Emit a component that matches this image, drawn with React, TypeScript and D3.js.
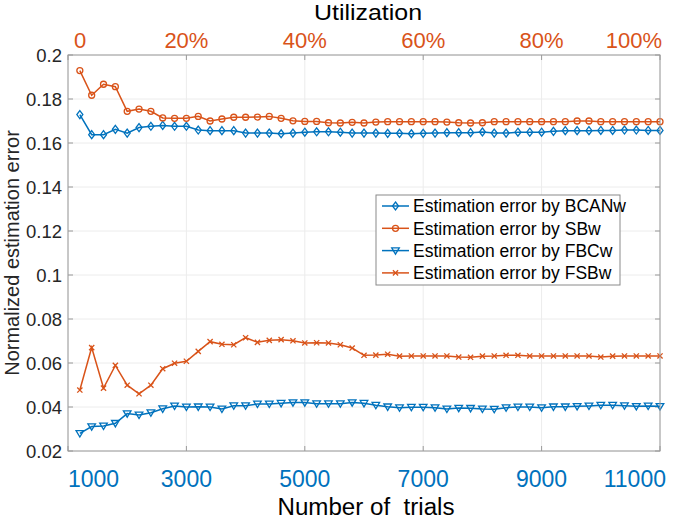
import React from "react";
import * as d3 from "d3";

const trials = [1200,1400,1600,1800,2000,2200,2400,2600,2800,3000,3200,3400,3600,3800,4000,4200,4400,4600,4800,5000,5200,5400,5600,5800,6000,6200,6400,6600,6800,7000,7200,7400,7600,7800,8000,8200,8400,8600,8800,9000,9200,9400,9600,9800,10000,10200,10400,10600,10800,11000];

const bcanw = [0.1729,0.1638,0.1638,0.1662,0.1645,0.1670,0.1676,0.1680,0.1676,0.1676,0.1659,0.1656,0.1656,0.1656,0.1645,0.1645,0.1645,0.1642,0.1645,0.1649,0.1651,0.1651,0.1649,0.1645,0.1645,0.1645,0.1644,0.1644,0.1642,0.1644,0.1645,0.1647,0.1647,0.1647,0.1650,0.1645,0.1645,0.1649,0.1649,0.1649,0.1653,0.1656,0.1656,0.1656,0.1657,0.1657,0.1659,0.1659,0.1657,0.1657];
const sbw = [0.1929,0.1817,0.1867,0.1856,0.1744,0.1754,0.1744,0.1714,0.1712,0.1712,0.1721,0.1700,0.1709,0.1717,0.1717,0.1718,0.1721,0.1712,0.1701,0.1698,0.1698,0.1692,0.1691,0.1694,0.1691,0.1695,0.1697,0.1697,0.1697,0.1697,0.1697,0.1695,0.1692,0.1691,0.1692,0.1697,0.1697,0.1697,0.1697,0.1697,0.1697,0.1697,0.1700,0.1700,0.1697,0.1697,0.1697,0.1697,0.1697,0.1697];
const fbcw = [0.0280,0.0311,0.0314,0.0326,0.0370,0.0364,0.0374,0.0392,0.0405,0.0400,0.0401,0.0400,0.0391,0.0406,0.0406,0.0414,0.0414,0.0417,0.0420,0.0420,0.0415,0.0415,0.0415,0.0420,0.0417,0.0408,0.0401,0.0397,0.0399,0.0399,0.0397,0.0391,0.0395,0.0394,0.0391,0.0390,0.0397,0.0400,0.0400,0.0397,0.0401,0.0401,0.0403,0.0405,0.0408,0.0408,0.0406,0.0403,0.0405,0.0403];
const fsbw = [0.0477,0.0670,0.0486,0.0589,0.0499,0.0460,0.0499,0.0574,0.0599,0.0608,0.0653,0.0697,0.0685,0.0683,0.0715,0.0694,0.0703,0.0706,0.0701,0.0691,0.0692,0.0691,0.0683,0.0668,0.0635,0.0636,0.0640,0.0631,0.0632,0.0632,0.0632,0.0632,0.0627,0.0626,0.0631,0.0632,0.0635,0.0635,0.0632,0.0632,0.0632,0.0632,0.0632,0.0632,0.0627,0.0631,0.0632,0.0632,0.0632,0.0632];

const xTicks = [1000,3000,5000,7000,9000,11000];
const topTicks = [0,0.2,0.4,0.6,0.8,1.0];
const topTickLabels = ["0","20%","40%","60%","80%","100%"];
const yTicks = [0.02,0.04,0.06,0.08,0.1,0.12,0.14,0.16,0.18,0.2];

const seriesNames = ["Estimation error by BCANw","Estimation error by SBw","Estimation error by FBCw","Estimation error by FSBw"];

const BLUE = "#0072BD";
const ORANGE = "#D95319";
const FONT = "'Liberation Sans', Arial, sans-serif";

const M = { left: 68, right: 660, top: 55, bottom: 451 };

function Marker({ type, x, y, color }: { type: string; x: number; y: number; color: string }) {
  if (type === "diamond") {
    return <path d={`M${x},${y - 4}L${x + 3},${y}L${x},${y + 4}L${x - 3},${y}Z`} fill="none" stroke={color} strokeWidth={1.3} />;
  }
  if (type === "circle") {
    return <circle cx={x} cy={y} r={3} fill="none" stroke={color} strokeWidth={1.3} />;
  }
  if (type === "tri") {
    return <path d={`M${x - 3.8},${y - 2.8}L${x + 3.8},${y - 2.8}L${x},${y + 3.6}Z`} fill="none" stroke={color} strokeWidth={1.3} />;
  }
  return <path d={`M${x - 2.6},${y - 2.6}L${x + 2.6},${y + 2.6}M${x - 2.6},${y + 2.6}L${x + 2.6},${y - 2.6}`} stroke={color} strokeWidth={1.3} />;
}

export default function App() {
  const x = d3.scaleLinear().domain([1000, 11000]).range([M.left, M.right]);
  const xTop = d3.scaleLinear().domain([0, 1]).range([M.left, M.right]);
  const y = d3.scaleLinear().domain([0.02, 0.2]).range([M.bottom, M.top]);
  const line = d3.line<number>().x((_, i) => x(trials[i])).y((d) => y(d));

  const series = [
    { data: bcanw, color: BLUE, marker: "diamond" },
    { data: sbw, color: ORANGE, marker: "circle" },
    { data: fbcw, color: BLUE, marker: "tri" },
    { data: fsbw, color: ORANGE, marker: "x" },
  ];

  const axisColor = "#9a9a9a";
  const gridColor = "#ececec";
  const legendX = 376, legendY = 195, legendW = 244, legendH = 90, rowH = 22.3;

  return (
    <svg width={675} height={521} style={{ position: "absolute", left: 0, top: 0, background: "#fff" }} fontFamily={FONT}>
      <rect x={0} y={0} width={675} height={521} fill="#fff" />
      {xTicks.map((t) => (
        <line key={"gx" + t} x1={x(t)} x2={x(t)} y1={M.top} y2={M.bottom} stroke={gridColor} strokeWidth={1} />
      ))}
      {yTicks.map((t) => (
        <line key={"gy" + t} x1={M.left} x2={M.right} y1={y(t)} y2={y(t)} stroke={gridColor} strokeWidth={1} />
      ))}
      {xTicks.map((t) => (
        <line key={"tx" + t} x1={x(t)} x2={x(t)} y1={M.bottom} y2={M.bottom - 5} stroke={axisColor} />
      ))}
      {topTicks.map((t) => (
        <line key={"tt" + t} x1={xTop(t)} x2={xTop(t)} y1={M.top} y2={M.top + 5} stroke={axisColor} />
      ))}
      {yTicks.map((t) => (
        <g key={"ty" + t}>
          <line x1={M.left} x2={M.left + 5} y1={y(t)} y2={y(t)} stroke={axisColor} />
          <line x1={M.right} x2={M.right - 5} y1={y(t)} y2={y(t)} stroke={axisColor} />
        </g>
      ))}
      {series.map((s, si) => (
        <g key={"s" + si}>
          <path d={line(s.data) || ""} fill="none" stroke={s.color} strokeWidth={1.5} />
          {s.data.map((v, i) => (
            <Marker key={i} type={s.marker} x={x(trials[i])} y={y(v)} color={s.color} />
          ))}
        </g>
      ))}
      <rect x={M.left} y={M.top} width={M.right - M.left} height={M.bottom - M.top} fill="none" stroke={axisColor} strokeWidth={1} />
      {yTicks.map((t) => (
        <text key={"yl" + t} x={62} y={y(t)} dy="0.36em" textAnchor="end" fontSize={18.5} fill="#262626">
          {d3.format("~g")(t)}
        </text>
      ))}
      {xTicks.map((t, i) => (
        <text key={"xl" + t} x={x(t) + (i === xTicks.length - 1 ? 6 : 0)} y={487} textAnchor={i === 0 ? "start" : i === xTicks.length - 1 ? "end" : "middle"} fontSize={23} fill={BLUE}>
          {t}
        </text>
      ))}
      {topTicks.map((t, i) => (
        <text key={"tl" + t} x={xTop(t) + (i === 0 ? 6 : i === topTicks.length - 1 ? 2 : 0)} y={48} textAnchor={i === 0 ? "start" : i === topTicks.length - 1 ? "end" : "middle"} fontSize={22} fill={ORANGE}>
          {topTickLabels[i]}
        </text>
      ))}
      <text x={368} y={20} textAnchor="middle" fontSize={22} textLength={108} lengthAdjust="spacingAndGlyphs" fill="#000">Utilization</text>
      <text x={366} y={515} textAnchor="middle" fontSize={23} textLength={177} lengthAdjust="spacingAndGlyphs" fill="#000" style={{ whiteSpace: "pre" }}>{"Number of  trials"}</text>
      <text transform={`translate(19,253) rotate(-90)`} textAnchor="middle" fontSize={20} fill="#262626">Normalized estimation error</text>
      <rect x={legendX} y={legendY} width={legendW} height={legendH} fill="#fff" stroke="#8a8a8a" strokeWidth={1} />
      {series.map((s, i) => {
        const cy = legendY + 11 + i * rowH;
        return (
          <g key={"lg" + i}>
            <line x1={legendX + 6} x2={legendX + 33} y1={cy} y2={cy} stroke={s.color} strokeWidth={1.5} />
            <Marker type={s.marker} x={legendX + 19.5} y={cy} color={s.color} />
            <text x={legendX + 37} y={cy} dy="0.36em" fontSize={17.5} fill="#000">{seriesNames[i]}</text>
          </g>
        );
      })}
    </svg>
  );
}
